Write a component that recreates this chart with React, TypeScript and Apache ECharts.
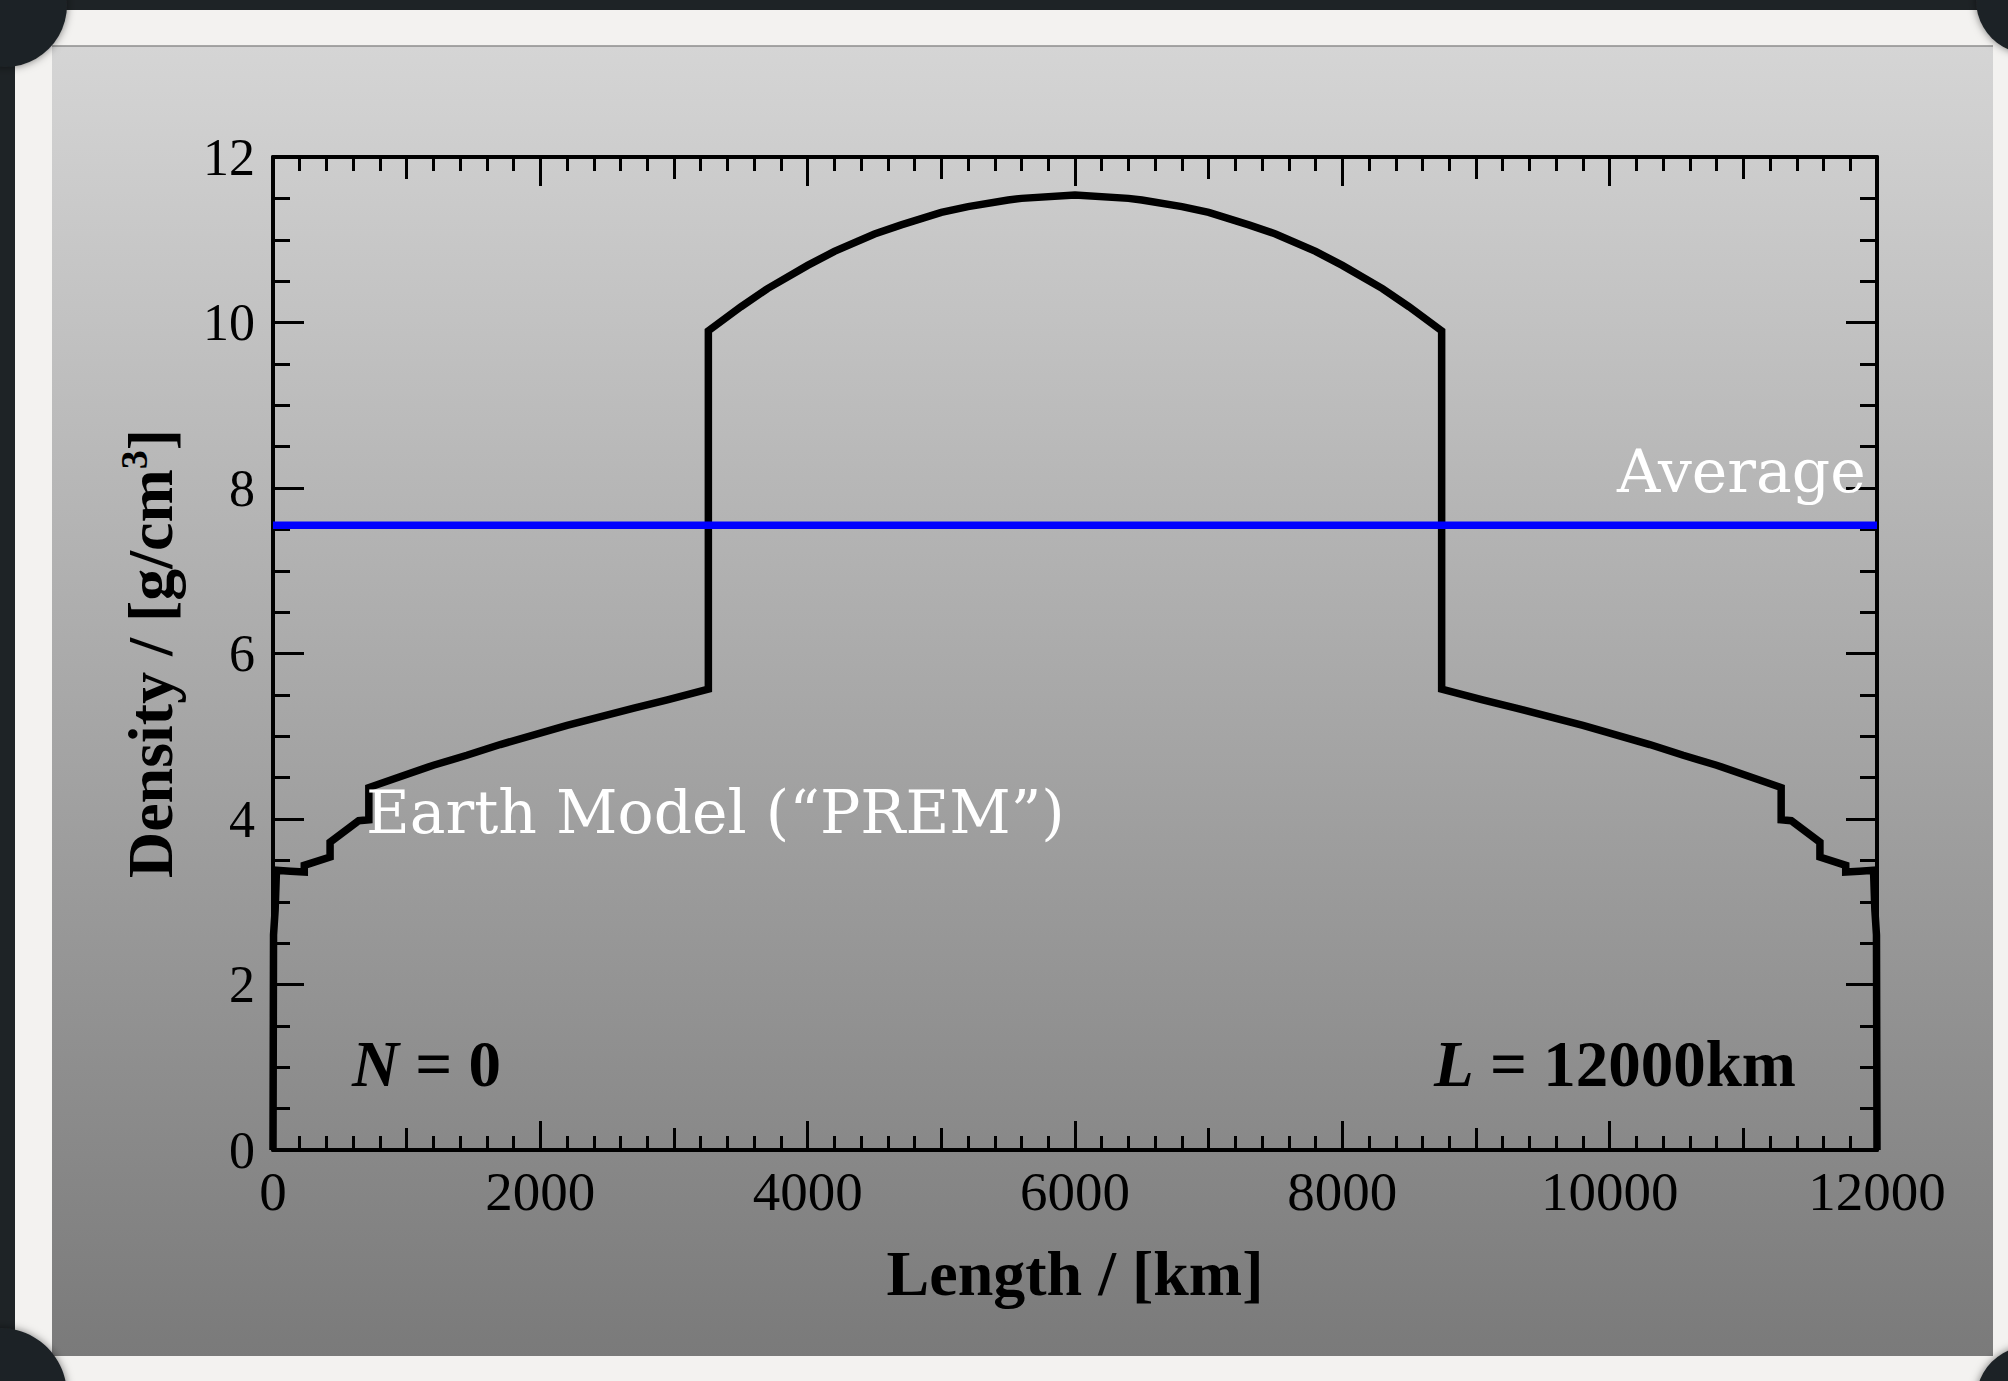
import React, { useEffect, useRef } from "react";
import * as echarts from "echarts";

// Density along a 12000 km chord through the Earth (PREM), N = 0
const LENGTH_KM = [
  0, 4, 16, 26, 130, 234, 234, 427, 427, 641, 717, 717,
  950, 1200, 1450, 1700, 2200, 2700, 2950, 3257,
  3257, 3500, 3700, 4000, 4200, 4500, 4700, 5000, 5200, 5500, 5600, 6000,
  6400, 6500, 6800, 7000, 7300, 7500, 7800, 8000, 8300, 8500, 8743,
  8743, 9050, 9300, 9800, 10300, 10550, 10800, 11050, 11283,
  11283, 11359, 11573, 11573, 11766, 11766, 11870, 11974, 11984, 11996, 12000,
];
const DENSITY = [
  0, 2.6, 2.9, 3.38, 3.37, 3.36, 3.44, 3.54, 3.72, 3.98, 3.99, 4.38,
  4.51, 4.65, 4.77, 4.9, 5.13, 5.34, 5.44, 5.57,
  9.9, 10.19, 10.41, 10.69, 10.86, 11.07, 11.18, 11.33, 11.4, 11.48, 11.5, 11.54,
  11.5, 11.48, 11.4, 11.33, 11.18, 11.07, 10.86, 10.69, 10.41, 10.19, 9.9,
  5.57, 5.44, 5.34, 5.13, 4.9, 4.77, 4.65, 4.51, 4.38,
  3.99, 3.98, 3.72, 3.54, 3.44, 3.36, 3.37, 3.38, 2.9, 2.6, 0,
];
const AVERAGE_DENSITY = 7.55;
const AVERAGE_SPAN = [0, 12000];

// Axis ranges and tick steps
const X_RANGE = [0, 12000];
const X_MAJOR = 2000;
const X_MID = 1000;
const X_MINOR_SPLIT = 10;
const Y_RANGE = [0, 12];
const Y_MAJOR = 2;
const Y_MINOR_SPLIT = 4;

const SERIF = '"Liberation Serif", "Times New Roman", serif';
const TYPE = '"DejaVu Serif", serif';

const W = 2008;
const H = 1381;
const GRID = { left: 273, top: 157, right: W - 1877, bottom: H - 1150 };

const black = "#000000";
const tickStyle = { color: black, width: 3 };

function xAxisFor(position: "top" | "bottom", interval: number, tickLen: number, primary: boolean, labels: boolean): any {
  return {
    type: "value",
    position,
    min: X_RANGE[0],
    max: X_RANGE[1],
    interval,
    z: 5,
    axisLine: { show: primary, onZero: false, lineStyle: { color: black, width: 4 } },
    axisTick: { show: true, inside: true, length: tickLen, lineStyle: tickStyle },
    minorTick: primary
      ? { show: true, splitNumber: X_MINOR_SPLIT, length: 14, lineStyle: tickStyle }
      : { show: false },
    axisLabel: labels
      ? {
          show: true,
          margin: 14,
          color: black,
          fontFamily: SERIF,
          fontSize: 55,
          formatter: (v: number) => String(v),
        }
      : { show: false },
    splitLine: { show: false },
    minorSplitLine: { show: false },
  };
}

function yAxisFor(position: "left" | "right", labels: boolean): any {
  return {
    type: "value",
    position,
    min: Y_RANGE[0],
    max: Y_RANGE[1],
    interval: Y_MAJOR,
    z: 5,
    axisLine: { show: true, onZero: false, lineStyle: { color: black, width: 4 } },
    axisTick: { show: true, inside: true, length: 31, lineStyle: tickStyle },
    minorTick: { show: true, splitNumber: Y_MINOR_SPLIT, length: 17, lineStyle: tickStyle },
    axisLabel: labels
      ? { show: true, margin: 18, color: black, fontFamily: SERIF, fontSize: 52, formatter: (v: number) => String(v) }
      : { show: false },
    splitLine: { show: false },
    minorSplitLine: { show: false },
  };
}

export default function App() {
  const ref = useRef<HTMLDivElement>(null);

  useEffect(() => {
    if (!ref.current) return;
    const chart = echarts.init(ref.current, null, { renderer: "svg" });

    const profile = LENGTH_KM.map((x, i) => [x, DENSITY[i]]);
    const average = AVERAGE_SPAN.map((x) => [x, AVERAGE_DENSITY]);

    const bottomMain = xAxisFor("bottom", X_MAJOR, 29, true, true);
    bottomMain.name = "Length / [km]";
    bottomMain.nameLocation = "middle";
    bottomMain.nameGap = 91;
    bottomMain.nameTextStyle = { color: black, fontFamily: SERIF, fontWeight: "bold", fontSize: 64 };

    const leftMain = yAxisFor("left", true);
    leftMain.name = "Density / [g/cm{s|3}]";
    leftMain.nameLocation = "middle";
    leftMain.nameRotate = 90;
    leftMain.nameGap = 88;
    leftMain.nameTextStyle = {
      color: black,
      fontFamily: SERIF,
      fontWeight: "bold",
      fontSize: 64,
      rich: {
        s: {
          color: black,
          fontFamily: SERIF,
          fontWeight: "bold",
          fontSize: 38,
          verticalAlign: "bottom",
          padding: [0, 0, 32, 0],
        },
      },
    };

    const labelRich = (size: number) => ({
      i: { fontFamily: SERIF, fontSize: size, fontWeight: "bold", fontStyle: "italic", fill: black },
      b: { fontFamily: SERIF, fontSize: size, fontWeight: "bold", fill: black },
    });

    const option: any = {
      animation: false,
      grid: { ...GRID, containLabel: false },
      xAxis: [
        bottomMain,
        xAxisFor("bottom", X_MID, 22, false, false),
        xAxisFor("top", X_MAJOR, 29, true, false),
        xAxisFor("top", X_MID, 22, false, false),
      ],
      yAxis: [leftMain, yAxisFor("right", false)],
      series: [
        {
          type: "line",
          name: "PREM",
          xAxisIndex: 0,
          yAxisIndex: 0,
          data: profile,
          showSymbol: false,
          clip: false,
          z: 6,
          lineStyle: { color: black, width: 7.5, join: "miter" },
        },
        {
          type: "line",
          name: "Average",
          xAxisIndex: 0,
          yAxisIndex: 0,
          data: average,
          showSymbol: false,
          clip: false,
          z: 7,
          lineStyle: { color: "#0000ff", width: 7.5 },
        },
      ],
      graphic: {
        elements: [
          { type: "rect", z: -10, shape: { x: 0, y: 0, width: W, height: H }, style: { fill: "#1e2326" } },
          { type: "rect", z: -9, shape: { x: 15, y: 10, width: W - 15, height: H - 10 }, style: { fill: "#f3f2f0" } },
          {
            type: "rect",
            z: -8,
            shape: { x: 52, y: 46, width: 1941, height: 1310 },
            style: {
              fill: new echarts.graphic.LinearGradient(0, 0, 0, 1, [
                { offset: 0, color: "#d5d5d5" },
                { offset: 1, color: "#7a7a7a" },
              ]),
            },
          },
          { type: "line", z: -7, shape: { x1: 52, y1: 46, x2: 1993, y2: 46 }, style: { stroke: "#8c8c8c", lineWidth: 1.5 } },
          { type: "circle", z: -6, shape: { cx: 5, cy: 5, r: 62 }, style: { fill: "#1e2326", shadowBlur: 8, shadowColor: "rgba(0,0,0,0.5)" } },
          { type: "circle", z: -6, shape: { cx: 2030, cy: 0, r: 54 }, style: { fill: "#1e2326", shadowBlur: 8, shadowColor: "rgba(0,0,0,0.5)" } },
          { type: "circle", z: -6, shape: { cx: 0, cy: 1395, r: 67 }, style: { fill: "#1e2326", shadowBlur: 8, shadowColor: "rgba(0,0,0,0.5)" } },
          { type: "circle", z: -6, shape: { cx: 2030, cy: 1400, r: 54 }, style: { fill: "#1e2326", shadowBlur: 8, shadowColor: "rgba(0,0,0,0.5)" } },
          {
            type: "text",
            z: 20,
            style: { text: "Average", x: 1617, y: 471, fill: "#ffffff", font: `60px ${TYPE}`, textAlign: "left", textVerticalAlign: "middle" },
          },
          {
            type: "text",
            z: 20,
            style: { text: "Earth Model (“PREM”)", x: 366, y: 812, fill: "#ffffff", font: `60px ${TYPE}`, textAlign: "left", textVerticalAlign: "middle" },
          },
          {
            type: "text",
            z: 20,
            style: {
              text: "{i|N}{b| = 0}",
              x: 352,
              y: 1064,
              textAlign: "left",
              textVerticalAlign: "middle",
              rich: labelRich(65),
            },
          },
          {
            type: "text",
            z: 20,
            style: {
              text: "{i|L}{b| = 12000km}",
              x: 1796,
              y: 1064,
              textAlign: "right",
              textVerticalAlign: "middle",
              rich: labelRich(65),
            },
          },
        ],
      },
    };

    chart.setOption(option);
    return () => chart.dispose();
  }, []);

  return <div ref={ref} style={{ position: "absolute", left: 0, top: 0, width: W, height: H }} />;
}
